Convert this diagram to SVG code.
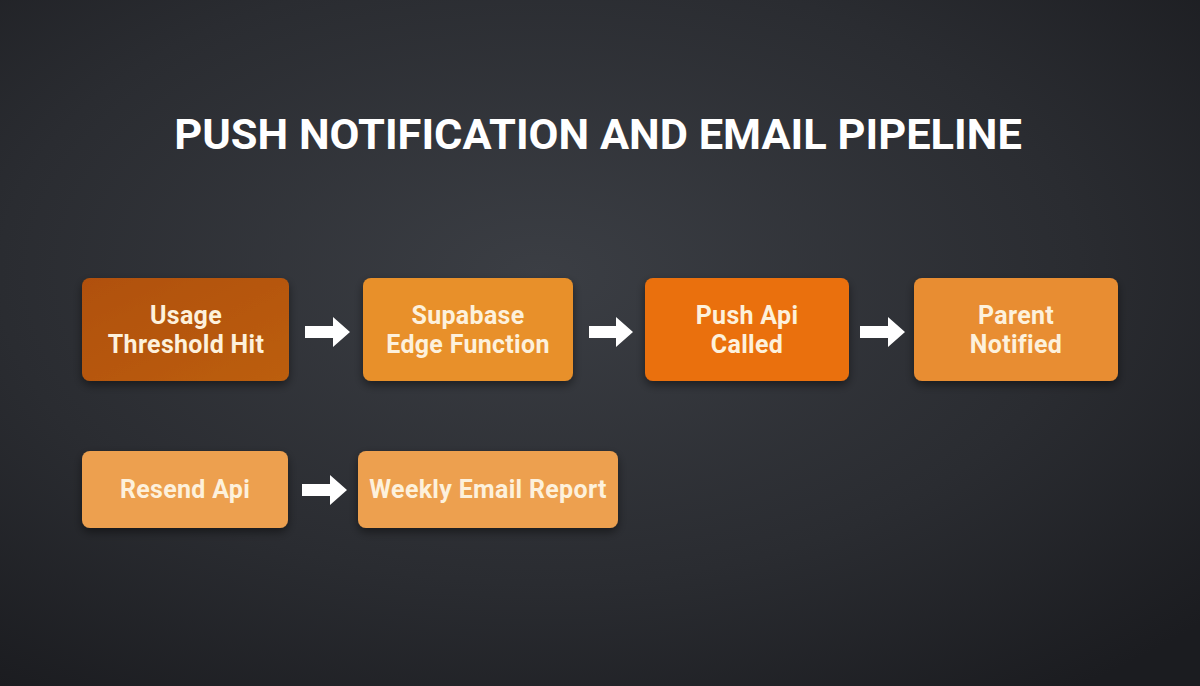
<svg xmlns="http://www.w3.org/2000/svg" width="1200" height="686" viewBox="0 0 1200 686">
<defs>
<radialGradient id="bg" cx="0.45" cy="0.4" r="0.75">
<stop offset="0" stop-color="#3b3e44"/>
<stop offset="0.6" stop-color="#2a2c31"/>
<stop offset="1" stop-color="#1b1c20"/>
</radialGradient>
<linearGradient id="g1" x1="0" y1="0" x2="1" y2="1">
<stop offset="0" stop-color="#b0500a"/>
<stop offset="1" stop-color="#bc5e0e"/>
</linearGradient>
<filter id="sh" x="-20%" y="-20%" width="140%" height="150%">
<feDropShadow dx="0" dy="4" stdDeviation="5" flood-color="#000" flood-opacity="0.45"/>
</filter>
</defs>
<style>
.box{filter:url(#sh);}
.t{font-family:Roboto,"Liberation Sans",sans-serif;font-weight:700;font-size:25px;letter-spacing:0.3px;fill:#fdf1dc;text-anchor:middle;}
.title{font-family:Roboto,"Liberation Sans",sans-serif;font-weight:700;font-size:43.4px;fill:#ffffff;text-anchor:middle;}
.arr{fill:#ffffff;}
</style>
<rect width="1200" height="686" fill="url(#bg)"/>
<text class="title" x="598" y="149">PUSH NOTIFICATION AND EMAIL PIPELINE</text>

<g id="n1">
<rect class="box" x="82" y="278" width="207" height="103" rx="8" fill="url(#g1)"/>
<text class="t" x="186" y="324">Usage</text>
<text class="t" x="186" y="353">Threshold Hit</text>
</g>
<g id="n2">
<rect class="box" x="363" y="278" width="210" height="103" rx="8" fill="#e8902a"/>
<text class="t" x="468" y="324">Supabase</text>
<text class="t" x="468" y="353">Edge Function</text>
</g>
<g id="n3">
<rect class="box" x="645" y="278" width="204" height="103" rx="8" fill="#ea700c"/>
<text class="t" x="747" y="324">Push Api</text>
<text class="t" x="747" y="353">Called</text>
</g>
<g id="n4">
<rect class="box" x="914" y="278" width="204" height="103" rx="8" fill="#e88d31"/>
<text class="t" x="1016" y="324">Parent</text>
<text class="t" x="1016" y="353">Notified</text>
</g>
<g id="n5">
<rect class="box" x="82" y="451" width="206" height="77" rx="8" fill="#eda04f"/>
<text class="t" x="185" y="498">Resend Api</text>
</g>
<g id="n6">
<rect class="box" x="358" y="451" width="260" height="77" rx="8" fill="#eda04f"/>
<text class="t" x="488" y="498">Weekly Email Report</text>
</g>

<g id="connectors" class="arr">
<polygon points="305,326 333,326 333,317 350,332 333,347 333,338 305,338"/>
<polygon points="589,326 616,326 616,317 633,332 616,347 616,338 589,338"/>
<polygon points="860,326 888,326 888,317 905,332 888,347 888,338 860,338"/>
<polygon points="302,484 330,484 330,475 347,490 330,505 330,496 302,496"/>
</g>
</svg>
